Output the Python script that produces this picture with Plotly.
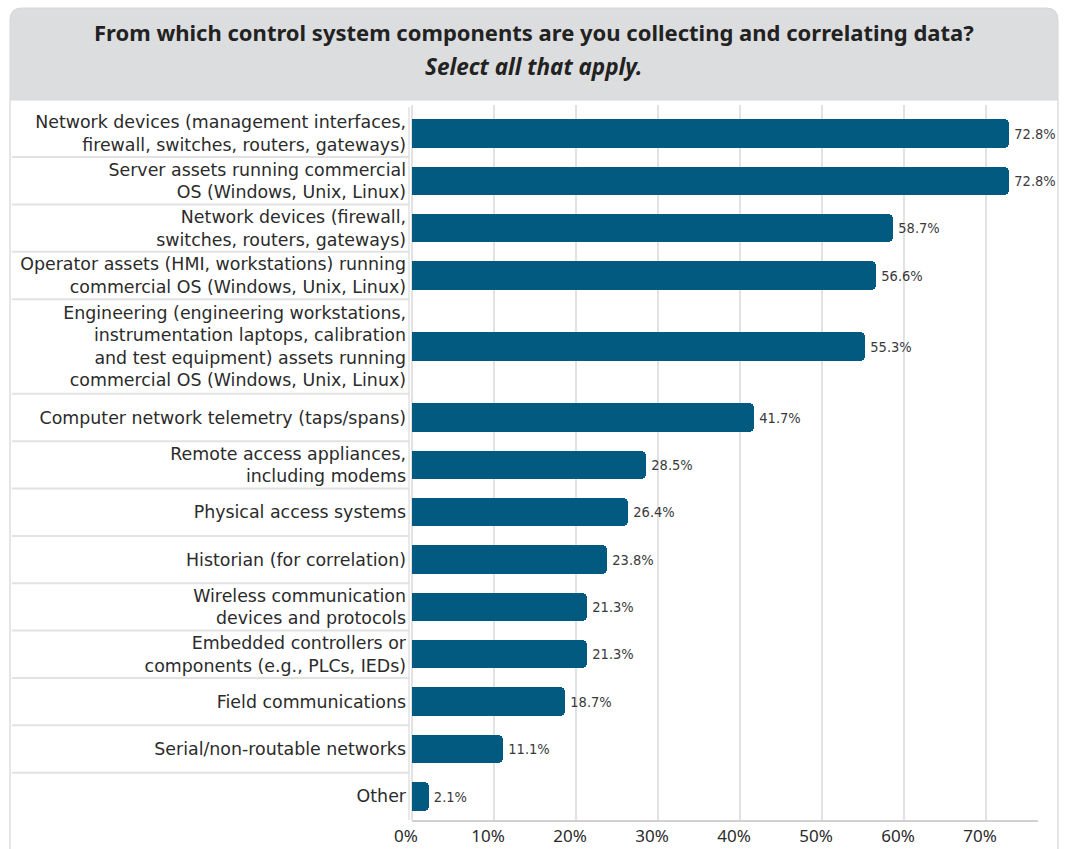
import math
import plotly.graph_objects as go

title_main = "From which control system components are you collecting and correlating data?"
title_sub = "Select all that apply."

categories = [
    "Network devices (management interfaces,<br>firewall, switches, routers, gateways)",
    "Server assets running commercial<br>OS (Windows, Unix, Linux)",
    "Network devices (firewall,<br>switches, routers, gateways)",
    "Operator assets (HMI, workstations) running<br>commercial OS (Windows, Unix, Linux)",
    "Engineering (engineering workstations,<br>instrumentation laptops, calibration<br>and test equipment) assets running<br>commercial OS (Windows, Unix, Linux)",
    "Computer network telemetry (taps/spans)",
    "Remote access appliances,<br>including modems",
    "Physical access systems",
    "Historian (for correlation)",
    "Wireless communication<br>devices and protocols",
    "Embedded controllers or<br>components (e.g., PLCs, IEDs)",
    "Field communications",
    "Serial/non-routable networks",
    "Other",
]
values = [72.8, 72.8, 58.7, 56.6, 55.3, 41.7, 28.5, 26.4, 23.8, 21.3, 21.3, 18.7, 11.1, 2.1]
x_ticks = [0, 10, 20, 30, 40, 50, 60, 70]
x_tick_labels = ["0%", "10%", "20%", "30%", "40%", "50%", "60%", "70%"]

# layout geometry (pixels)
W, H = 1065, 849
L, R, T, B = 412, 1038, 105, 820
pw, ph = R - L, B - T

def xp(px):
    return (px - L) / pw

def yp(py):
    return (B - py) / ph

# row positions derived from the number of label lines
units = [max(1, math.ceil((c.count("<br>") + 1) / 2)) for c in categories]
centers, bounds = [], []
acc = 0.0
for u in units:
    centers.append(acc + u / 2)
    acc += u
    bounds.append(acc)
total = acc

BAR = "#035a80"
GRID = "#e2e2e2"
TEXT = "#2b2b2b"

fig = go.Figure()
fig.add_trace(go.Bar(
    x=values, y=centers, orientation="h",
    width=[0.6] * len(values),
    marker=dict(color=BAR, line=dict(width=0), cornerradius=5),
    text=[f"{v:.1f}%" for v in values],
    textposition="outside",
    textfont=dict(family="DejaVu Sans, sans-serif", size=14.5, color="#3a3a3a"),
    cliponaxis=False,
    hoverinfo="skip",
))

shapes = []
# title box with rounded top corners
r = 12
x0, x1, y0, y1 = 10, 1058, 8, 100
path = (f"M {xp(x0)},{yp(y1)} L {xp(x0)},{yp(y0 + r)} "
        f"Q {xp(x0)},{yp(y0)} {xp(x0 + r)},{yp(y0)} "
        f"L {xp(x1 - r)},{yp(y0)} Q {xp(x1)},{yp(y0)} {xp(x1)},{yp(y0 + r)} "
        f"L {xp(x1)},{yp(y1)} Z")
shapes.append(dict(type="path", xref="paper", yref="paper", path=path,
                   fillcolor="#dcdddf", line=dict(color="#d6d7d9", width=1), layer="below"))
# frame side borders
for xx in (x0, x1):
    shapes.append(dict(type="line", xref="paper", yref="paper",
                       x0=xp(xx), x1=xp(xx), y0=yp(y1), y1=yp(H + 5),
                       line=dict(color="#dcdcdc", width=1.5), layer="below"))
# row separators in the label column
for b in bounds[:-1]:
    shapes.append(dict(type="line", xref="paper", yref="y",
                       x0=xp(12), x1=xp(410), y0=b, y1=b,
                       line=dict(color=GRID, width=2), layer="below"))
# label column right edge
shapes.append(dict(type="line", xref="paper", yref="paper",
                   x0=xp(409), x1=xp(409), y0=yp(B - 0), y1=yp(T + 2),
                   line=dict(color=GRID, width=1.5), layer="below"))

annotations = [
    dict(text=f"<b>{title_main}</b>", xref="paper", yref="paper",
         x=xp(534), y=yp(32), xanchor="center", yanchor="middle", showarrow=False,
         font=dict(family="Noto Sans, Open Sans, sans-serif", size=22, color="#222")),
    dict(text=f"<b><i>{title_sub}</i></b>", xref="paper", yref="paper",
         x=xp(534), y=yp(66), xanchor="center", yanchor="middle", showarrow=False,
         font=dict(family="Noto Sans, Open Sans, sans-serif", size=22.5, color="#222")),
]

fig.update_layout(
    width=W, height=H,
    margin=dict(l=L, r=W - R, t=T, b=H - B, pad=0, autoexpand=False),
    paper_bgcolor="white", plot_bgcolor="white",
    showlegend=False,
    bargap=0,
    shapes=shapes,
    annotations=annotations,
    font=dict(family="DejaVu Sans, sans-serif", color=TEXT),
    xaxis=dict(
        range=[0, (R - L) / 82.0 * 10], tickvals=x_ticks, ticktext=x_tick_labels,
        showgrid=True, gridcolor=GRID, gridwidth=1.5,
        zeroline=True, zerolinecolor=GRID, zerolinewidth=1.5,
        showline=True, linecolor="#d0d0d0", linewidth=1.5,
        ticks="", fixedrange=True, automargin=False,
        ticklabelstandoff=0, ticklabelshift=-6,
        tickfont=dict(family="Noto Sans, sans-serif", size=17, color=TEXT),
    ),
    yaxis=dict(
        range=[total, -0.1], tickvals=centers, ticktext=categories,
        showgrid=False, zeroline=False, showline=False, ticks="",
        ticklabelstandoff=5, fixedrange=True, automargin=False,
        tickfont=dict(family="DejaVu Sans, sans-serif", size=17.4, color=TEXT),
    ),
)

post = """
document.body.style.margin='0';
document.body.style.overflow='hidden';
document.querySelectorAll('.bartext').forEach(function(t){
  t.style.fontStretch='condensed';
});
"""
fig.write_html("out.html", post_script=post, config={"displayModeBar": False})
